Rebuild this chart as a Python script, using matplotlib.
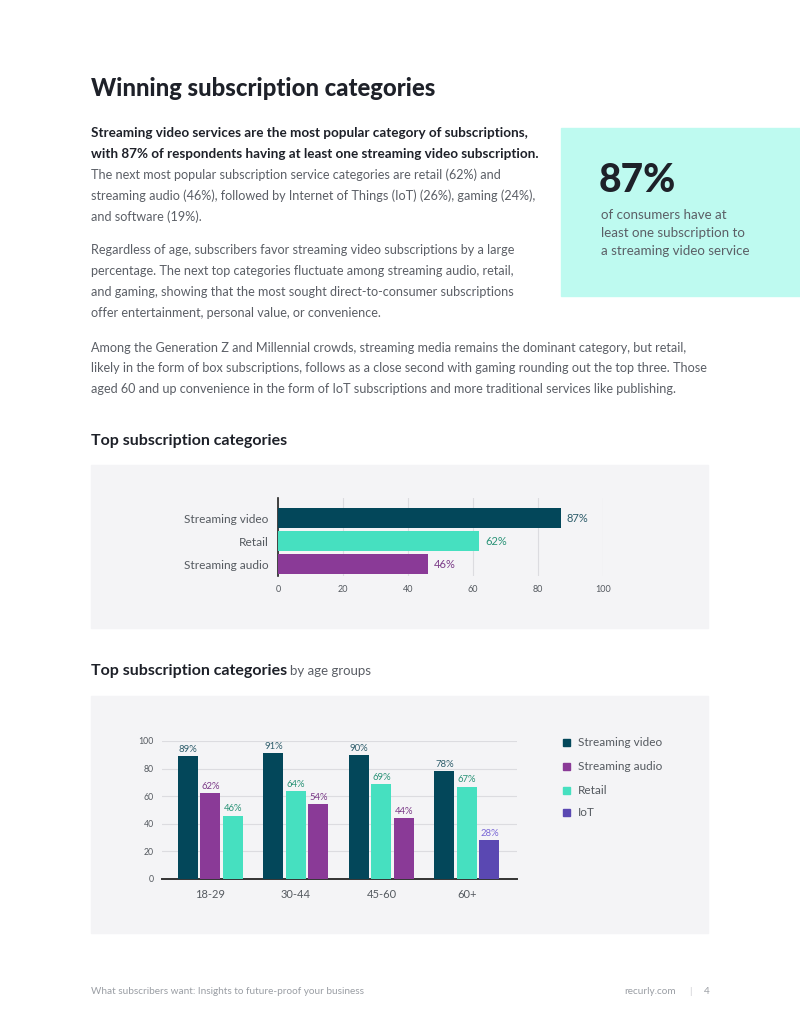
import numpy as np
import matplotlib
matplotlib.use("Agg")
import matplotlib.pyplot as plt
from matplotlib.patches import Rectangle

plt.rcParams['font.family'] = ['Lato', 'DejaVu Sans']

W, H = 800, 1035

# data
top_categories = ["Streaming video", "Retail", "Streaming audio"]
top_values = [87, 62, 46]

age_groups = ["18-29", "30-44", "45-60", "60+"]
series_names = ["Streaming video", "Streaming audio", "Retail", "IoT"]
streaming_video = [89, 91, 90, 78]
streaming_audio = [62, 54, 44, None]
retail = [46, 64, 69, 67]
iot = [None, None, None, 28]

DARK = "#03475a"
TEAL = "#46e0c0"
PURPLE = "#8a3a97"
INDIGO = "#5a48b2"
bar_colors = {"Streaming video": DARK, "Streaming audio": PURPLE, "Retail": TEAL, "IoT": INDIGO}
label_colors = {"Streaming video": "#2e5d6b", "Streaming audio": "#7b3b88",
                "Retail": "#2a9377", "IoT": "#7a68d6"}

fig = plt.figure(figsize=(W / 100, H / 100), dpi=100)
fig.patch.set_facecolor("white")


def fx(x):
    return x / W


def fy(y):
    return 1 - y / H


def txt(x, y, s, **kw):
    kw.setdefault("va", "center")
    fig.text(fx(x), fy(y), s, **kw)


def rect(x0, y0, x1, y1, color):
    fig.patches.append(Rectangle((fx(x0), fy(y1)), (x1 - x0) / W, (y1 - y0) / H,
                                 transform=fig.transFigure, color=color, zorder=-5))


def axes_px(x0, y0, x1, y1):
    return fig.add_axes([fx(x0), fy(y1), (x1 - x0) / W, (y1 - y0) / H])


BODY = "#5b5f66"
INK = "#1e2129"

txt(91, 89, "Winning subscription categories", fontsize=17.2, fontweight=900, color=INK)

bold_lines = ["Streaming video services are the most popular category of subscriptions,",
              "with 87% of respondents having at least one streaming video subscription."]
for i, s in enumerate(bold_lines):
    txt(91, 133 + 21 * i, s, fontsize=9.7, fontweight="bold", color=INK)

para1 = ["The next most popular subscription service categories are retail (62%) and",
         "streaming audio (46%), followed by Internet of Things (IoT) (26%), gaming (24%),",
         "and software (19%)."]
for i, s in enumerate(para1):
    txt(91, 175 + 20.7 * i, s, fontsize=9.1, color=BODY)

para2 = ["Regardless of age, subscribers favor streaming video subscriptions by a large",
         "percentage. The next top categories fluctuate among streaming audio, retail,",
         "and gaming, showing that the most sought direct-to-consumer subscriptions",
         "offer entertainment, personal value, or convenience."]
for i, s in enumerate(para2):
    txt(91, 250 + 21 * i, s, fontsize=9.1, color=BODY)

para3 = ["Among the Generation Z and Millennial crowds, streaming media remains the dominant category, but retail,",
         "likely in the form of box subscriptions, follows as a close second with gaming rounding out the top three. Those",
         "aged 60 and up convenience in the form of IoT subscriptions and more traditional services like publishing."]
for i, s in enumerate(para3):
    txt(91, 348 + 20.5 * i, s, fontsize=9.1, color=BODY)

# callout
rect(561, 128, 800, 296, "#befaf0")
txt(599, 181, "87%", fontsize=28, fontweight=900, color=INK)
for i, s in enumerate(["of consumers have at", "least one subscription to", "a streaming video service"]):
    txt(601, 215 + 18 * i, s, fontsize=9.6, color=BODY)

# chart 1
txt(91, 441, "Top subscription categories", fontsize=11.5, fontweight="bold", color=INK)
rect(91, 465, 708, 628, "#f4f4f6")

ax1 = axes_px(278, 498, 603, 576)
ax1.set_facecolor("none")
y = np.arange(len(top_categories))
ax1.barh(y, top_values, height=0.87, color=[bar_colors[c] for c in top_categories], zorder=3)
ax1.set_xlim(0, 100)
ax1.set_ylim(2.52, -0.87)
ax1.set_xticks([0, 20, 40, 60, 80, 100])
ax1.set_yticks(y)
ax1.set_yticklabels(top_categories, fontsize=8.6, color="#555a60")
ax1.tick_params(axis="x", length=0, labelsize=6.5, labelcolor="#555a60", pad=6.5)
ax1.tick_params(axis="y", length=0, pad=7)
ax1.grid(axis="x", color="#dcdce0", linewidth=0.8, zorder=0)
for s in ["top", "right", "bottom"]:
    ax1.spines[s].set_visible(False)
ax1.spines["left"].set_color("#222222")
ax1.spines["left"].set_linewidth(1.2)
for yi, (c, v) in enumerate(zip(top_categories, top_values)):
    ax1.text(v + 1.8, yi, f"{v}%", va="center", ha="left", fontsize=8, color=label_colors[c])

# chart 2
txt(91, 671, "Top subscription categories", fontsize=11.5, fontweight="bold", color=INK)
txt(290, 671, "by age groups", fontsize=9.5, color=BODY)
rect(91, 696, 708, 933, "#f4f4f6")

ax2 = axes_px(162, 741, 517, 879)
ax2.set_facecolor("none")
series = {"Streaming video": streaming_video, "Streaming audio": streaming_audio,
          "Retail": retail, "IoT": iot}
bw = 0.234
step = 0.263
for g in range(len(age_groups)):
    present = [(n, series[n][g]) for n in series_names if series[n][g] is not None]
    present.sort(key=lambda t: -t[1])
    offs = (np.arange(len(present)) - (len(present) - 1) / 2) * step
    for (n, v), o in zip(present, offs):
        ax2.bar(g + o, v, width=bw, color=bar_colors[n], zorder=3)
        ax2.text(g + o, v + 1.5, f"{v}%", ha="center", va="bottom", fontsize=6.8,
                 color=label_colors[n], clip_on=False)
ax2.set_xlim(-0.567, 3.585)
ax2.set_ylim(0, 100)
ax2.set_yticks([0, 20, 40, 60, 80, 100])
ax2.set_xticks(range(len(age_groups)))
ax2.set_xticklabels(age_groups, fontsize=8, color="#555a60")
ax2.tick_params(axis="y", length=0, labelsize=6.3, labelcolor="#555a60", pad=6)
ax2.tick_params(axis="x", length=0, pad=7)
ax2.grid(axis="y", color="#dcdce0", linewidth=0.8, zorder=0)
for s in ["top", "right", "left"]:
    ax2.spines[s].set_visible(False)
ax2.spines["bottom"].set_color("#333333")
ax2.spines["bottom"].set_linewidth(1.4)

# legend
for i, (n, yy) in enumerate(zip(series_names, [742, 766, 790, 812])):
    rect(563, yy - 3.5, 570, yy + 3.5, bar_colors[n])
    txt(578, yy, n, fontsize=8.5, color="#555a60")

# footer
txt(91, 992, "What subscribers want: Insights to future-proof your business", fontsize=7.2, color="#9a9ea4")
txt(676, 992, "recurly.com", fontsize=7.2, color="#9a9ea4", ha="right")
txt(690, 992, "|", fontsize=7.2, color="#d0d0d4", ha="center")
txt(707, 992, "4", fontsize=7.2, color="#9a9ea4", ha="center")

fig.savefig("out.png", dpi=100, facecolor="white")
